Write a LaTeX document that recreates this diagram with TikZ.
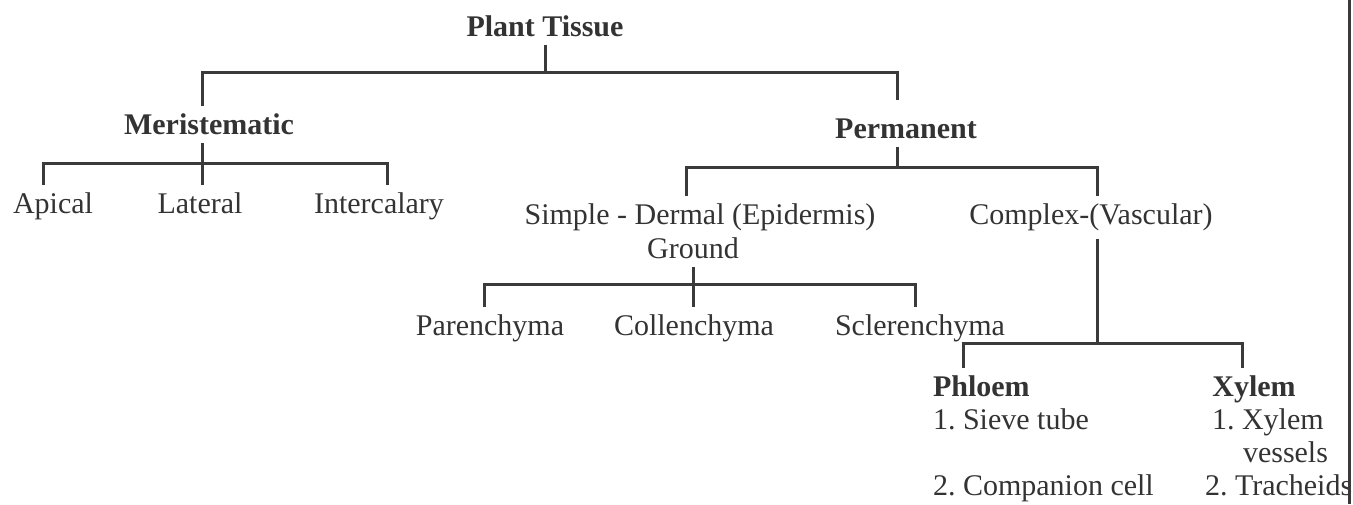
\documentclass[tikz,border=0pt]{standalone}
\usepackage{fontspec}
\setmainfont{Liberation Serif}
\usepackage{tikz}
\definecolor{TreeInk}{HTML}{333333}
\definecolor{TreeRule}{HTML}{3A3A3A}
\frenchspacing

\begin{document}
\begin{tikzpicture}[x=1pt,y=-1pt,
    tissueitem/.style={text=TreeInk,font=\fontsize{30}{34}\selectfont,
      anchor=base,inner sep=2pt,outer sep=5pt,text height=21pt,text depth=2pt},
    tissuehead/.style={tissueitem,font=\fontsize{30}{34}\selectfont\bfseries},
    treeline/.style={draw=TreeRule,line width=3pt}]
  \useasboundingbox (0,0) rectangle (1353,504);

  \node[tissuehead] (tissue) at (545,36) {Plant Tissue};
  \node[tissuehead] (mer) at (209,134) {Meristematic};
  \node[tissuehead] (per) at (906,138) {Permanent};
  \node[tissueitem] (apical) at (53,213) {Apical};
  \node[tissueitem] (lateral) at (200,213) {Lateral};
  \node[tissueitem] (inter) at (379,213) {Intercalary};
  \node[tissueitem] (simple) at (700,224) {Simple - Dermal (Epidermis)};
  \node[tissueitem] (ground) at (693,258) {Ground};
  \node[tissueitem] (complex) at (1091,224) {Complex-(Vascular)};
  \node[tissueitem] (paren) at (490,335) {Parenchyma};
  \node[tissueitem] (collen) at (694,335) {Collenchyma};
  \node[tissueitem] (scler) at (920,335) {Sclerenchyma};
  \node[tissuehead,anchor=base west] (phloem) at (926,396) {Phloem};
  \node[tissueitem,anchor=base west] (sieve) at (926,429) {1. Sieve tube};
  \node[tissueitem,anchor=base west] (companion) at (926,495) {2. Companion cell};
  \node[tissuehead] (xylem) at (1254,396) {Xylem};
  \node[tissueitem,anchor=base west] (vessel) at (1205,429) {1. Xylem};
  \node[tissueitem,anchor=base west] (vesselb) at (1236,462) {vessels};
  \node[tissueitem,anchor=base west] (trach) at (1198,495) {2. Tracheids};

  \coordinate (tbarL) at (202,72);
  \coordinate (tbarR) at (897,72);
  \coordinate (mbarL) at (43,163);
  \coordinate (mbarR) at (387,163);
  \coordinate (pbarL) at (686,167);
  \coordinate (pbarR) at (1097,167);
  \coordinate (gbarL) at (484,284);
  \coordinate (gbarR) at (915,284);
  \coordinate (cbarL) at (963,343);
  \coordinate (cbarR) at (1242,343);
  \coordinate (edgeT) at (1349.5,0);
  \coordinate (edgeB) at (1349.5,504);

  \draw[treeline] (tissue.south) -- (tissue.south |- tbarL);
  \draw[treeline,shorten >=10pt] (mer.north -| tbarL) -- (tbarL) -- (tbarR) -- (per.north -| tbarR);
  \draw[treeline] (mer.south -| tbarL) -- (lateral.north -| tbarL);
  \draw[treeline] (apical.north -| mbarL) -- (mbarL) -- (mbarR) -- (inter.north -| mbarR);
  \draw[treeline] (per.south -| tbarR) -- (tbarR |- pbarL);
  \draw[treeline] (simple.north -| pbarL) -- (pbarL) -- (pbarR) -- (complex.north -| pbarR);
  \draw[treeline] (ground.south) -- (collen.north -| ground.south);
  \draw[treeline] (paren.north -| gbarL) -- (gbarL) -- (gbarR) -- (scler.north -| gbarR);
  \draw[treeline,shorten <=6pt] (complex.south -| pbarR) -- (pbarR |- cbarL);
  \draw[treeline] (phloem.north -| cbarL) -- (cbarL) -- (cbarR) -- (xylem.north -| cbarR);
  \draw[treeline] (edgeT) -- (edgeB);
\end{tikzpicture}
\end{document}
